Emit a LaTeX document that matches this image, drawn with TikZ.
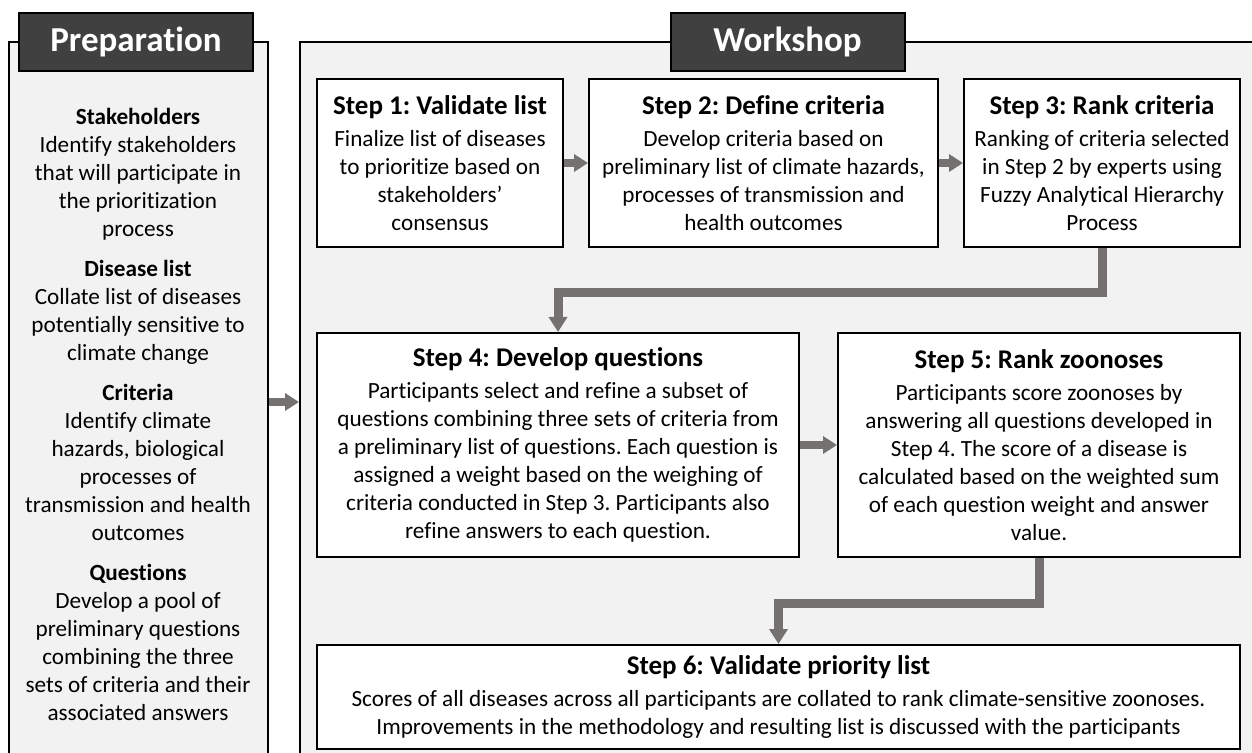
\documentclass[tikz,border=0pt]{standalone}
\usepackage{fontspec}
\setmainfont{Carlito}[Ligatures=NoCommon,Contextuals=NoAlternate]
\usetikzlibrary{arrows.meta}
\definecolor{panelgray}{RGB}{242,242,242}
\definecolor{titlegray}{RGB}{64,64,64}
\definecolor{arrowgray}{RGB}{118,113,113}
\newcommand\stephead[1]{{\fontsize{13.5}{16}\selectfont\bfseries #1}}
\frenchspacing

\begin{document}
\begin{tikzpicture}[x=0.5pt,y=-0.5pt,
  panel/.style={draw=black,line width=1pt,fill=panelgray,inner sep=0pt},
  titlebox/.style={draw=black,line width=1pt,fill=titlegray,text=white,inner sep=0pt,
    font=\fontsize{17.5}{21}\selectfont\bfseries,minimum width=117pt,minimum height=29pt},
  stepbox/.style={draw=black,line width=1pt,fill=white,align=center,inner sep=0pt,
    font=\fontsize{11.6}{14}\selectfont},
  flow/.style={draw=arrowgray,line width=4pt,-{Triangle[length=7pt,width=8.5pt]}},
  elbow/.style={draw=arrowgray,line width=4.5pt,-{Triangle[length=7.5pt,width=9pt]}}]

  \useasboundingbox (0,0) rectangle (1252,753);
  \clip (0,0) rectangle (1252,753);

  %% panels
  \node[panel,minimum width=129.5pt,minimum height=369pt] (prep) at (138.5,411) {};
  \node[panel,minimum width=481pt,minimum height=369pt] (work) at (781,411) {};
  \node[titlebox] (preptitle) at (136,42) {Preparation};
  \node[titlebox] (worktitle) at (787.5,42) {Workshop};

  \node[align=center,font=\fontsize{11.6}{14}\selectfont] (preptext) at (138,414)
  {\textbf{Stakeholders}\\Identify stakeholders\\that will participate in\\the prioritization\\process\\[6pt]
   \textbf{Disease list}\\Collate list of diseases\\potentially sensitive to\\climate change\\[6pt]
   \textbf{Criteria}\\Identify climate\\hazards, biological\\processes of\\transmission and health\\outcomes\\[6pt]
   \textbf{Questions}\\Develop a pool of\\preliminary questions\\combining the three\\sets of criteria and their\\associated answers};

  %% steps
  \node[stepbox,minimum width=123pt,minimum height=84pt] (step1) at (440,163)
  {\stephead{Step 1: Validate list}\\[2pt]Finalize list of diseases\\to prioritize based on\\stakeholders’\\consensus};
  \node[stepbox,minimum width=174.5pt,minimum height=84pt] (step2) at (763.5,163)
  {\stephead{Step 2: Define criteria}\\[2pt]Develop criteria based on\\preliminary list of climate hazards,\\processes of transmission and\\health outcomes};
  \node[stepbox,minimum width=138pt,minimum height=84pt] (step3) at (1102,163)
  {\stephead{Step 3: Rank criteria}\\[2pt]Ranking of criteria selected\\in Step 2 by experts using\\Fuzzy Analytical Hierarchy\\Process};

  \node[stepbox,minimum width=241pt,minimum height=112pt] (step4) at (558,445)
  {\stephead{Step 4: Develop questions}\\[2pt]Participants select and refine a subset of\\questions combining three sets of criteria from\\a preliminary list of questions. Each question is\\assigned a weight based on the weighing of\\criteria conducted in Step 3. Participants also\\refine answers to each question.};
  \node[stepbox,minimum width=201pt,minimum height=112pt] (step5) at (1039,445)
  {\stephead{Step 5: Rank zoonoses}\\[2pt]Participants score zoonoses by\\answering all questions developed in\\Step 4. The score of a disease is\\calculated based on the weighted sum\\of each question weight and answer\\value.};

  \node[stepbox,minimum width=461.5pt,minimum height=52pt] (step6) at (778.5,697)
  {\stephead{Step 6: Validate priority list}\\[2pt]Scores of all diseases across all participants are collated to rank climate-sensitive zoonoses.\\Improvements in the methodology and resulting list is discussed with the participants};

  %% connectors
  \coordinate (arrowy) at (0,402);
  \draw[flow] (prep.east |- arrowy) -- (work.west |- arrowy); %% prep -> work
  \draw[flow] (step1.east) -- (step2.west); %% 1 -> 2
  \draw[flow] (step2.east) -- (step3.west); %% 2 -> 3
  \draw[elbow] (step3.south) -- ++(0,45) -| (step4.north); %% 3 -> 4
  \draw[flow] (step4.east) -- (step5.west); %% 4 -> 5
  \draw[elbow] (step5.south) -- ++(0,45) -| (step6.north); %% 5 -> 6

\end{tikzpicture}
\end{document}
